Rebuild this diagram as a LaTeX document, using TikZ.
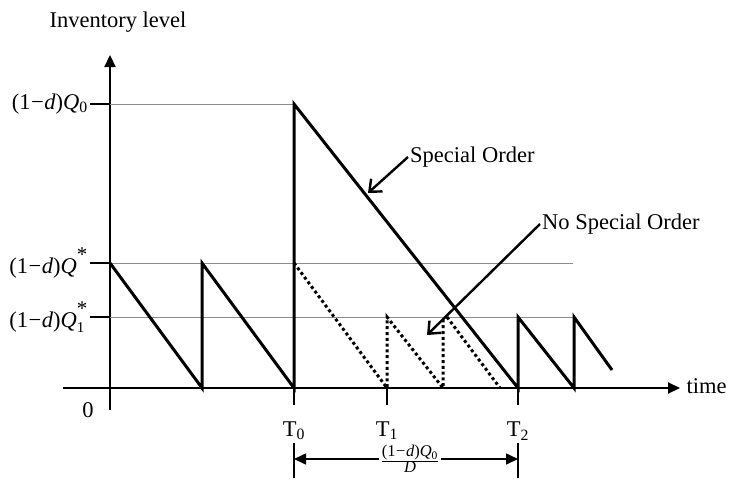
\documentclass[tikz,border=0pt]{standalone}
\usepackage{fontspec}
\setmainfont{Liberation Serif}
\usepackage{tikz}
\usetikzlibrary{arrows.meta,positioning,calc}
\definecolor{GuideGrey}{HTML}{8C8C8C}
\newcommand{\omd}{(1\kern0.5pt−\kern0.5pt\textit{d})}
\newcommand{\idx}[1]{\mbox{\fontsize{15}{15}\selectfont #1}}
\newcommand{\opt}{\mbox{\fontsize{21}{21}\selectfont\raisebox{0.15em}{*}}}

\begin{document}
\begin{tikzpicture}[x=1pt,y=-1pt,>={Triangle[length=12pt,width=11pt]},
  font=\fontsize{22.5}{26}\selectfont,
  saw/.style={line width=3pt,line join=miter},
  nosaw/.style={line width=3pt,dash pattern=on 3pt off 2.8pt},
  guide/.style={GuideGrey,line width=0.7pt},
  tickmark/.style={line width=2pt},
  callout/.style={line width=2.4pt,-{Straight Barb[length=10pt,width=17pt]}}]
  \useasboundingbox (0,0) rectangle (737,480);
  % axes
  \coordinate (O) at (110,388);
  \coordinate (ybot) at (110,410);
  \coordinate (ytop) at (110,55);
  \coordinate (xleft) at (63,388);
  \coordinate (xright) at (680,388);
  \node (ylab) at (118,22) {Inventory level};
  \node[anchor=west] (xlab) at (683,386) {time};
  \node (zero) at (88,410) {0};
  \draw[line width=2.2pt,->] (ybot) -- (ytop);
  \draw[line width=2.2pt,->] (xleft) -- (xright);
  % levels
  \foreach \yy/\lab/\len in {104/{\omd\textit{Q}\textsubscript{0}}/294,
      263/{\omd$\textit{Q}^{\opt}$}/573,
      317/{\omd$\textit{Q}^{\opt}_{\idx{1}}$}/573}{
    \draw[guide] (110,\yy) -- (\len,\yy);
    \draw[tickmark] (90,\yy) -- (110,\yy);
    \node[anchor=east,inner sep=1pt] at (89,\yy) {\lab};
  }
  % inventory paths
  \draw[saw] (110,263) -- (202,388) -- (202,263) -- (294,388) -- (294,104)
    -- (518,388) -- (518,317) -- (574,388) -- (574,317) -- (612,370);
  \draw[nosaw] (294,263) -- (387,388) -- (387,317) -- (443,388) -- (443,317);
  \draw[nosaw] (447,317) -- (500,388);
  % time marks
  \draw[tickmark] (294,388) -- (294,405);
  \draw[tickmark] (387,388) -- (387,405);
  \draw[tickmark] (518,388) -- (518,405);
  \node (t0) at (294,431) {T\textsubscript{0}};
  \node (t1) at (387,431) {T\textsubscript{1}};
  \node (t2) at (518,431) {T\textsubscript{2}};
  \draw[tickmark] (294,443) -- (294,478);
  \draw[tickmark] (518,443) -- (518,478);
  \coordinate (d0) at (294,459);
  \coordinate (d2) at (518,459);
  \node[fill=white,inner sep=2pt,font=\fontsize{16.5}{18}\selectfont] (frac) at (410,459)
    {$\frac{\mbox{\omd\textit{Q}\textsubscript{0}}}{\mbox{\textit{D}}}$};
  \draw[line width=1.6pt,->] (frac) -- (d0);
  \draw[line width=1.6pt,->] (frac) -- (d2);
  % callouts
  \node[anchor=west,inner sep=2pt] (special) at (408,157) {Special Order};
  \node[anchor=west,inner sep=2pt] (nospecial) at (540,224) {No Special Order};
  \coordinate (specialtip) at (368,193);
  \coordinate (nospecialtip) at (427,335);
  \draw[callout] (special.west) -- (specialtip);
  \draw[callout] (nospecial.west) -- (nospecialtip);
\end{tikzpicture}
\end{document}
